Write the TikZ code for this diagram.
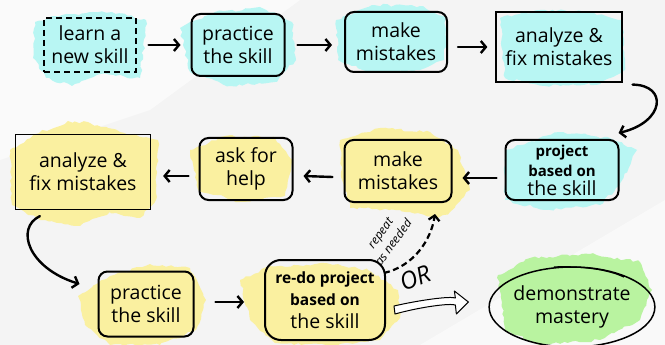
\documentclass[tikz,border=0pt]{standalone}
\usepackage{fontspec}
\setmainfont{Open Sans}
\usetikzlibrary{arrows.meta,shapes.geometric,decorations.pathmorphing,calc}
\definecolor{cy}{HTML}{B8F6F3}
\definecolor{yl}{HTML}{FAF0A0}
\definecolor{gr}{HTML}{B9F3A0}
\definecolor{paper}{HTML}{F4F4F4}
\begin{document}
\begin{tikzpicture}[x=1pt,y=-1pt,
  txt/.style={align=center,font=\fontsize{19.5}{23}\selectfont,inner sep=0pt},
  box/.style={txt,draw=black,line width=2pt,rounded corners=9pt},
  sqbox/.style={txt,draw=black,line width=1.2pt},
  arr/.style={-{Straight Barb[length=5pt,width=12pt]},line width=2.4pt,line cap=round},
  blob/.style={decorate,decoration={random steps,segment length=4pt,amplitude=1.4pt}},
  hand/.style={font=\fontsize{12}{16}\selectfont\itshape,align=center,inner sep=0pt}
]
\pgfmathsetseed{7}
\useasboundingbox (0,0) rectangle (665,345);
\fill[paper] (0,0) rectangle (665,345);
\fill[white,opacity=0.6] (0,0) -- (300,0) -- (150,110) -- (0,160) -- cycle;
\fill[white,opacity=0.5] (665,200) -- (665,345) -- (420,345) -- cycle;

% ---- blobs ----
\fill[cy,blob] (35,22) -- (62,15) -- (112,12) -- (146,20) -- (143,55) -- (140,78) -- (100,74) -- (72,86) -- (46,78) -- (33,58) -- cycle;
\fill[cy,blob] (180,28) -- (215,12) -- (262,8) -- (292,22) -- (296,60) -- (275,82) -- (230,86) -- (190,72) -- cycle;
\fill[cy,blob] (336,20) -- (372,5) -- (420,6) -- (446,18) -- (444,60) -- (420,70) -- (370,72) -- (338,60) -- cycle;
\fill[cy,blob] (500,18) -- (540,10) -- (590,12) -- (622,20) -- (625,70) -- (600,84) -- (545,86) -- (505,78) -- cycle;
\fill[cy,blob] (505,150) -- (560,132) -- (610,138) -- (637,150) -- (620,185) -- (600,205) -- (545,210) -- (505,200) -- cycle;
\fill[yl,blob] (340,140) -- (380,128) -- (430,132) -- (458,150) -- (470,190) -- (450,212) -- (438,218) -- (400,210) -- (350,208) -- (342,180) -- cycle;
\fill[yl,blob] (190,150) -- (225,136) -- (275,138) -- (292,160) -- (285,196) -- (240,202) -- (198,190) -- cycle;
\fill[yl,blob] (10,150) -- (40,132) -- (60,126) -- (68,121) -- (90,123) -- (120,132) -- (158,140) -- (156,200) -- (140,218) -- (110,212) -- (80,226) -- (40,220) -- (12,205) -- cycle;
\fill[yl,blob] (78,296) -- (110,276) -- (150,264) -- (190,268) -- (206,300) -- (196,330) -- (160,345) -- (110,345) -- (85,325) -- cycle;
\fill[yl,blob] (240,280) -- (270,266) -- (330,264) -- (368,270) -- (398,290) -- (400,318) -- (380,340) -- (330,345) -- (275,343) -- (250,320) -- cycle;
\fill[gr,blob] (498,275) -- (530,258) -- (590,254) -- (640,262) -- (652,290) -- (640,320) -- (600,340) -- (540,345) -- (505,330) -- cycle;

% ---- nodes ----
\node[txt,draw=black,line width=1.2pt,dash pattern=on 6pt off 4pt,minimum width=92pt,minimum height=54pt] (learn) at (90,45) {learn a\\new skill};
\node[box,minimum width=93pt,minimum height=62pt] (p1) at (238,45) {practice\\the skill};
\node[box,minimum width=102pt,minimum height=60pt] (m1) at (396,42) {make\\mistakes};
\node[sqbox,minimum width=126pt,minimum height=70pt] (a1) at (559,47) {analyze \&\\fix mistakes};
\node[box,minimum width=113pt,minimum height=60pt] (proj) at (562,170) {{\fontsize{15}{17}\selectfont\bfseries project}\\[-3pt]{\fontsize{15}{17}\selectfont\bfseries based on}\\[-4pt]the skill};
\node[box,minimum width=107pt,minimum height=62pt] (m2) at (398,171) {make\\mistakes};
\node[box,minimum width=93pt,minimum height=62pt] (help) at (246,169) {ask for\\help};
\node[sqbox,minimum width=135pt,minimum height=75pt] (a2) at (83,172) {analyze \&\\fix mistakes};
\node[box,minimum width=95pt,minimum height=65pt] (p2) at (146,304) {practice\\the skill};
\node[box,rounded corners=16pt,minimum width=120pt,minimum height=80pt] (redo) at (325,300) {{\fontsize{15.5}{18}\selectfont\bfseries re-do project}\\[-1pt]{\fontsize{15.5}{18}\selectfont\bfseries based on}\\[0pt]the skill};
\node[txt,ellipse,draw=black,line width=1.5pt,minimum width=132pt,minimum height=80pt,inner sep=0pt] (dm) at (572,307) {demonstrate\\mastery};
\draw[line width=1.3pt] ($(dm)+(-18,-40)$) .. controls ($(dm)+(10,-41)$) and ($(dm)+(35,-38)$) .. ($(dm)+(52,-30)$);

% ---- arrows ----
\draw[arr] ($(learn.east)+(12,0)$) -- ($(p1.west)+(-10,0)$);
\draw[arr] ($(p1.east)+(12,0)$) -- ($(m1.west)+(-12,3)$);
\draw[arr] ($(m1.east)+(10,5)$) -- ($(a1.west)+(-8,0)$);
\coordinate (c1s) at ($(a1.south east)+(10,2)$);
\coordinate (c1e) at ($(proj.north east)+(-1,-6)$);
\draw[arr] (c1s) .. controls (668,85) and (665,122) .. (c1e);
\draw[arr] ($(proj.west)+(-8,8)$) -- ($(m2.east)+(10,7)$);
\draw[arr] ($(m2.west)+(-11,6)$) -- ($(help.east)+(10,7)$);
\draw[arr] ($(help.west)+(-10,7)$) -- ($(a2.east)+(12,4)$);
\coordinate (c2s) at ($(a2.south west)+(25,6)$);
\coordinate (c2e) at ($(p2.west)+(-18,-20)$);
\draw[arr] (c2s) .. controls (15,228) and (28,268) .. (c2e);
\draw[arr] ($(p2.east)+(21,-2)$) -- ($(redo.west)+(-20,2)$);
\coordinate (d1) at ($(redo.north east)+(-2,14)$);
\coordinate (d2) at ($(m2.south)+(37,11)$);
\draw[-{Straight Barb[length=5pt,width=11pt]},line width=2.2pt,dash pattern=on 6pt off 3.5pt] (d1) .. controls (414,266) and (431,240) .. (d2);
\node[hand,rotate=54] (rep) at (387,238) {repeat\\as needed};
\node[font=\fontsize{24}{24}\selectfont\itshape,rotate=22,inner sep=0pt] (or) at (415,278) {OR};
\draw[line width=1pt,fill=white,line join=round]
  ($(redo.east)+(8,6)$) .. controls (420,300) and (450,296) .. ($(dm.west)+(-33,-9)$)
  -- ($(dm.west)+(-34,-16)$) -- ($(dm.west)+(-20,-5)$) -- ($(dm.west)+(-32,7)$)
  -- ($(dm.west)+(-33,-2)$) .. controls (450,303) and (420,307) .. ($(redo.east)+(9,14)$) -- cycle;
\end{tikzpicture}
\end{document}
